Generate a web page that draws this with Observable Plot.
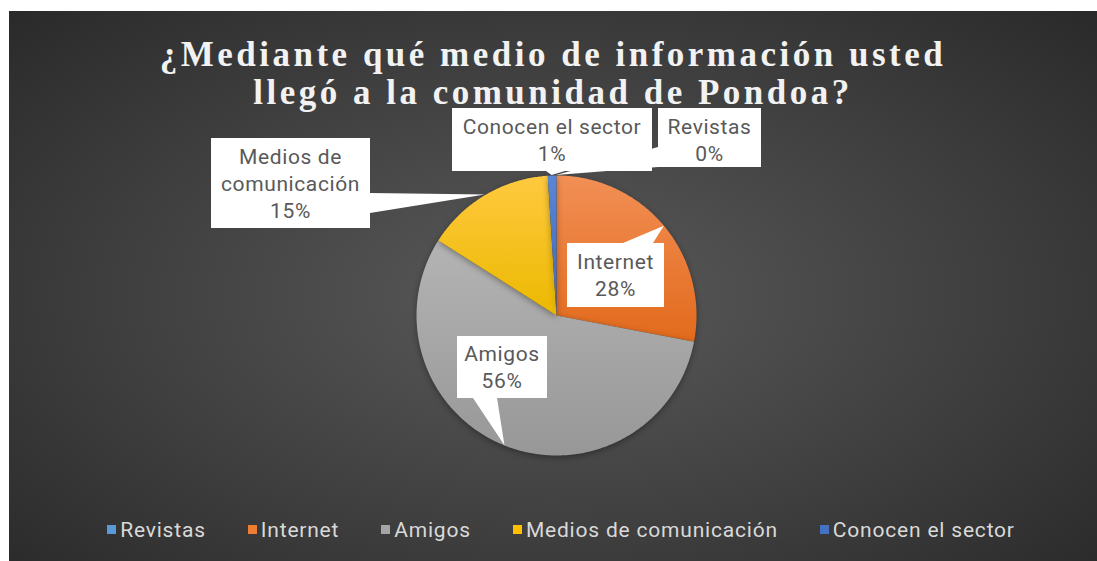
<!DOCTYPE html>
<html><head><meta charset="utf-8">
<script src="https://cdn.jsdelivr.net/npm/d3@7"></script>
<script src="https://cdn.jsdelivr.net/npm/@observablehq/plot@0.6"></script>
<style>
body{margin:0;background:#fff;}
#panel{position:absolute;left:9px;top:11px;width:1088px;height:550px;background:radial-gradient(ellipse 75% 80% at 50% 52%, #5a5a5a 0%, #3e3e3e 55%, #262626 100%);overflow:hidden;}
.tline{position:absolute;left:0;width:100%;height:39px;text-align:center;font:bold 35px "Liberation Serif",serif;letter-spacing:3.5px;color:#f2f2f2;line-height:39px;white-space:nowrap;overflow:visible;}
#chart{position:absolute;left:0;top:0;}
#legend{position:absolute;left:8px;top:502px;width:100%;}
.lg-swatches-wrap{justify-content:center;}
.lg-swatches{font-family:Roboto,sans-serif !important;font-size:21px !important;letter-spacing:0.8px;color:#d9d9d9 !important;margin:0 !important;}
.lg-swatch{margin-right:42px !important;}
.lg-swatch:last-child{margin-right:0 !important;}
.lg-swatch > svg{margin-right:4px !important;}
</style></head><body>
<div id="panel"><div class="tline" style="top:24px">¿Mediante qué medio de información usted</div><div class="tline" style="top:62px">llegó a la comunidad de Pondoa?</div><div id="chart"></div><div id="legend"></div></div>
<script>
const categories = ["Revistas", "Internet", "Amigos", "Medios de comunicación", "Conocen el sector"];
const values = [0, 28, 56, 15, 1];
const percentLabels = ["0%", "28%", "56%", "15%", "1%"];
const labelLines = [["Revistas"], ["Internet"], ["Amigos"], ["Medios de", "comunicación"], ["Conocen el sector"]];
const colors = ["#5B9BD5", "#ED7D31", "#A5A5A5", "#FFC000", "#4472C4"];
const gradTop = ["#72AADF", "#F28F55", "#B4B4B4", "#FFC93F", "#5A86D4"];
const gradBottom = ["#4D8ECB", "#E26A1C", "#979797", "#EBB900", "#3C68BD"];

const W = 1088, H = 550, cx = 547, cy = 304, R = 140;
const data = categories.map((c, i) => ({name: c, value: values[i]}));
const arcs = d3.pie().sort(null).value(d => d.value)(data);

// polygon points (unit circle) for each slice
const pts = [];
arcs.forEach(a => {
  if (a.endAngle - a.startAngle <= 0) return;
  const n = Math.max(2, Math.ceil((a.endAngle - a.startAngle) / 0.01));
  pts.push({name: a.data.name, x: 0, y: 0});
  for (let i = 0; i <= n; i++) {
    const t = a.startAngle + (a.endAngle - a.startAngle) * i / n;
    pts.push({name: a.data.name, x: Math.sin(t), y: Math.cos(t)});
  }
});

const plot = Plot.plot({
  width: W, height: H, margin: 0,
  x: {domain: [-cx / R, (W - cx) / R], axis: null},
  y: {domain: [-(H - cy) / R, cy / R], axis: null},
  style: {background: "transparent", overflow: "visible"},
  marks: categories.map((c, i) => Plot.line(pts.filter(p => p.name === c), {
    x: "x", y: "y", fill: `url(#sg${i})`, stroke: "none"
  }))
});
document.getElementById("chart").append(plot);

const svg = d3.select(plot);
const defs = svg.insert("defs", ":first-child");
categories.forEach((c, i) => {
  const g = defs.append("linearGradient").attr("id", `sg${i}`).attr("x1", 0).attr("y1", 0).attr("x2", 0).attr("y2", 1);
  g.append("stop").attr("offset", "0%").attr("stop-color", gradTop[i]);
  g.append("stop").attr("offset", "100%").attr("stop-color", gradBottom[i]);
});
svg.selectAll("g[aria-label='line']").style("filter", "drop-shadow(0px 2px 3px rgba(0,0,0,0.35))");

const sx = plot.scale("x"), sy = plot.scale("y");
// callout boxes (layout) : [x0, y0, x1, y1, pointer base side, base a, base b, text offset]
const boxes = [
  {x0: 649, y0: 97, x1: 752, y1: 156, side: "left", a: 136, b: 156, dy: 2},
  {x0: 558, y0: 232, x1: 655, y1: 296, side: "top", a: 614, b: 644, dy: 0},
  {x0: 448, y0: 325, x1: 538, y1: 387, side: "bottom", a: 464, b: 488, dy: 0},
  {x0: 202, y0: 127, x1: 361, y1: 217, side: "right", a: 182, b: 202, dy: 0},
  {x0: 443, y0: 97, x1: 643, y1: 160, side: "bottom", a: 537, b: 556, dy: 0.5}
];
const gl = svg.append("g").attr("font-family", "Roboto, sans-serif").attr("font-size", 21).attr("letter-spacing", "0.6px").attr("fill", "#595959").attr("text-anchor", "middle");
arcs.forEach((a, i) => {
  const b = boxes[i];
  const mid = (a.startAngle + a.endAngle) / 2;
  const tx = sx.apply(Math.sin(mid)), ty = sy.apply(Math.cos(mid));
  let p = `M${b.x0},${b.y0}`;
  if (b.side === "top") p += `L${b.a},${b.y0}L${tx},${ty}L${b.b},${b.y0}`;
  p += `L${b.x1},${b.y0}`;
  if (b.side === "right") p += `L${b.x1},${b.a}L${tx},${ty}L${b.x1},${b.b}`;
  p += `L${b.x1},${b.y1}`;
  if (b.side === "bottom") p += `L${b.b},${b.y1}L${tx},${ty}L${b.a},${b.y1}`;
  p += `L${b.x0},${b.y1}`;
  if (b.side === "left") p += `L${b.x0},${b.b}L${tx},${ty}L${b.x0},${b.a}`;
  p += "Z";
  gl.append("path").attr("d", p).attr("fill", "#ffffff");
  const lines = [...labelLines[i], percentLabels[i]];
  const ccx = (b.x0 + b.x1) / 2, ccy = (b.y0 + b.y1) / 2 + b.dy;
  const lh = 27;
  lines.forEach((t, k) => {
    gl.append("text").attr("x", ccx).attr("y", ccy + (k - (lines.length - 1) / 2) * lh).attr("dy", "0.36em").text(t);
  });
});

const legend = Plot.legend({
  color: {type: "categorical", domain: categories, range: colors},
  legend: "swatches", swatchSize: 9, className: "lg"
});
document.getElementById("legend").append(legend);
</script>
</body></html>
